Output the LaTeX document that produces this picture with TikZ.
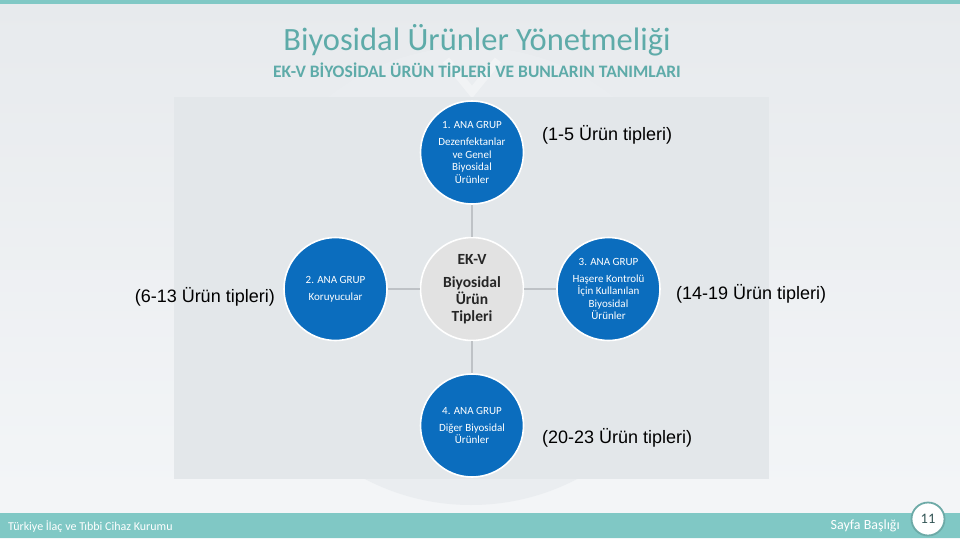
\documentclass[tikz,border=0pt]{standalone}
\usepackage{fontspec}
\setmainfont{Carlito}
\newfontfamily\arialfont{Liberation Sans}
\usepackage{tikz}
\usetikzlibrary{positioning}

\definecolor{ekblue}{HTML}{0B6DBE}
\definecolor{hubgray}{HTML}{E2E2E2}
\definecolor{barteal}{HTML}{80C8C5}
\definecolor{titleteal}{HTML}{5EABA9}
\definecolor{linegray}{HTML}{BEC2C6}
\definecolor{panelgray}{HTML}{E3E7EA}
\definecolor{markgray}{HTML}{EAEDF0}
\definecolor{bgtop}{HTML}{E7EAED}
\definecolor{bgbottom}{HTML}{F4F6F8}

\begin{document}
\begin{tikzpicture}[
            x = 1pt, y = -1pt, % one unit per pixel, y downwards
            node distance = 136.5pt, % centre to centre
            on grid
        ]

        \tikzstyle{grp}=[
            circle,
            fill = ekblue,
            draw = white,
            line width = 1.6pt,
            minimum size = 103pt,
            inner sep = 0pt,
            text = white,
            align = center,
            font = \fontsize{11}{12.4}\selectfont
        ]
        \tikzstyle{hub}=[grp, fill = hubgray, text = black!85,
            font = \fontsize{15.5}{16.8}\selectfont\bfseries]
        \tikzstyle{typelabel}=[inner sep = 0pt, font = \arialfont\fontsize{18}{20}\selectfont]
        \tikzstyle{link}=[draw = linegray, line width = 2pt]

        % slide background
        \useasboundingbox (0,0) rectangle (960,538);
        \shade[top color = bgtop, bottom color = bgbottom] (0,0) rectangle (960,538);
        \fill[markgray] (471,276) circle (229pt);
        \draw[white, opacity = 0.35, line width = 8pt] (446,60) -- (472,92) -- (498,60);
        \fill[panelgray] (174,97) rectangle (769,479);
        \fill[barteal] (0,0) rectangle (960,4);
        \fill[barteal] (0,513) rectangle (960,538);

        \node[font = \fontsize{32.5}{36}\selectfont, text = titleteal] (title) at (477,40) {Biyosidal Ürünler Yönetmeliği};
        \node[font = \fontsize{17.5}{20}\selectfont\bfseries, text = titleteal] (subtitle) at (477,70) {EK-V BİYOSİDAL ÜRÜN TİPLERİ VE BUNLARIN TANIMLARI};

        \node[hub] (hub) at (472,289) {EK-V\\[6.3pt]Biyosidal\\Ürün\\Tipleri};
        \node[grp] (g1) [above=of hub] {1. ANA GRUP\\[4.6pt]Dezenfektanlar\\ve Genel\\Biyosidal\\Ürünler};
        \node[grp] (g2) [left=of hub] {2. ANA GRUP\\[4.6pt]Koruyucular};
        \node[grp] (g3) [right=of hub] {3. ANA GRUP\\[4.6pt]Haşere Kontrolü\\İçin Kullanılan\\Biyosidal\\Ürünler};
        \node[grp] (g4) [below=of hub] {4. ANA GRUP\\[4.6pt]Diğer Biyosidal\\Ürünler};

        \path[link] (g1) -- (hub);
        \path[link] (g2) -- (hub);
        \path[link] (g3) -- (hub);
        \path[link] (g4) -- (hub);

        \node[typelabel, anchor = west] (r1) at (542,135) {(1-5 Ürün tipleri)};
        \node[typelabel, anchor = east] (r2) at (275,297) {(6-13 Ürün tipleri)};
        \node[typelabel, anchor = west] (r3) at (676,294) {(14-19 Ürün tipleri)};
        \node[typelabel, anchor = west] (r4) at (542,438) {(20-23 Ürün tipleri)};

        % footer
        \node[anchor = west, inner sep = 0pt, text = white, font = \fontsize{12}{14}\selectfont] (inst) at (8,527) {Türkiye İlaç ve Tıbbi Cihaz Kurumu};
        \node[anchor = east, inner sep = 0pt, text = white, font = \fontsize{14}{16}\selectfont] (page) at (900,526) {Sayfa Başlığı};
        \node[circle, fill = white, draw = barteal!85!black, line width = 1.8pt, minimum size = 33pt, inner sep = 0pt,
            text = black!55!teal!60!gray, font = \fontsize{14.5}{16}\selectfont] (num) at (928,519) {11};

  \end{tikzpicture}
\end{document}
